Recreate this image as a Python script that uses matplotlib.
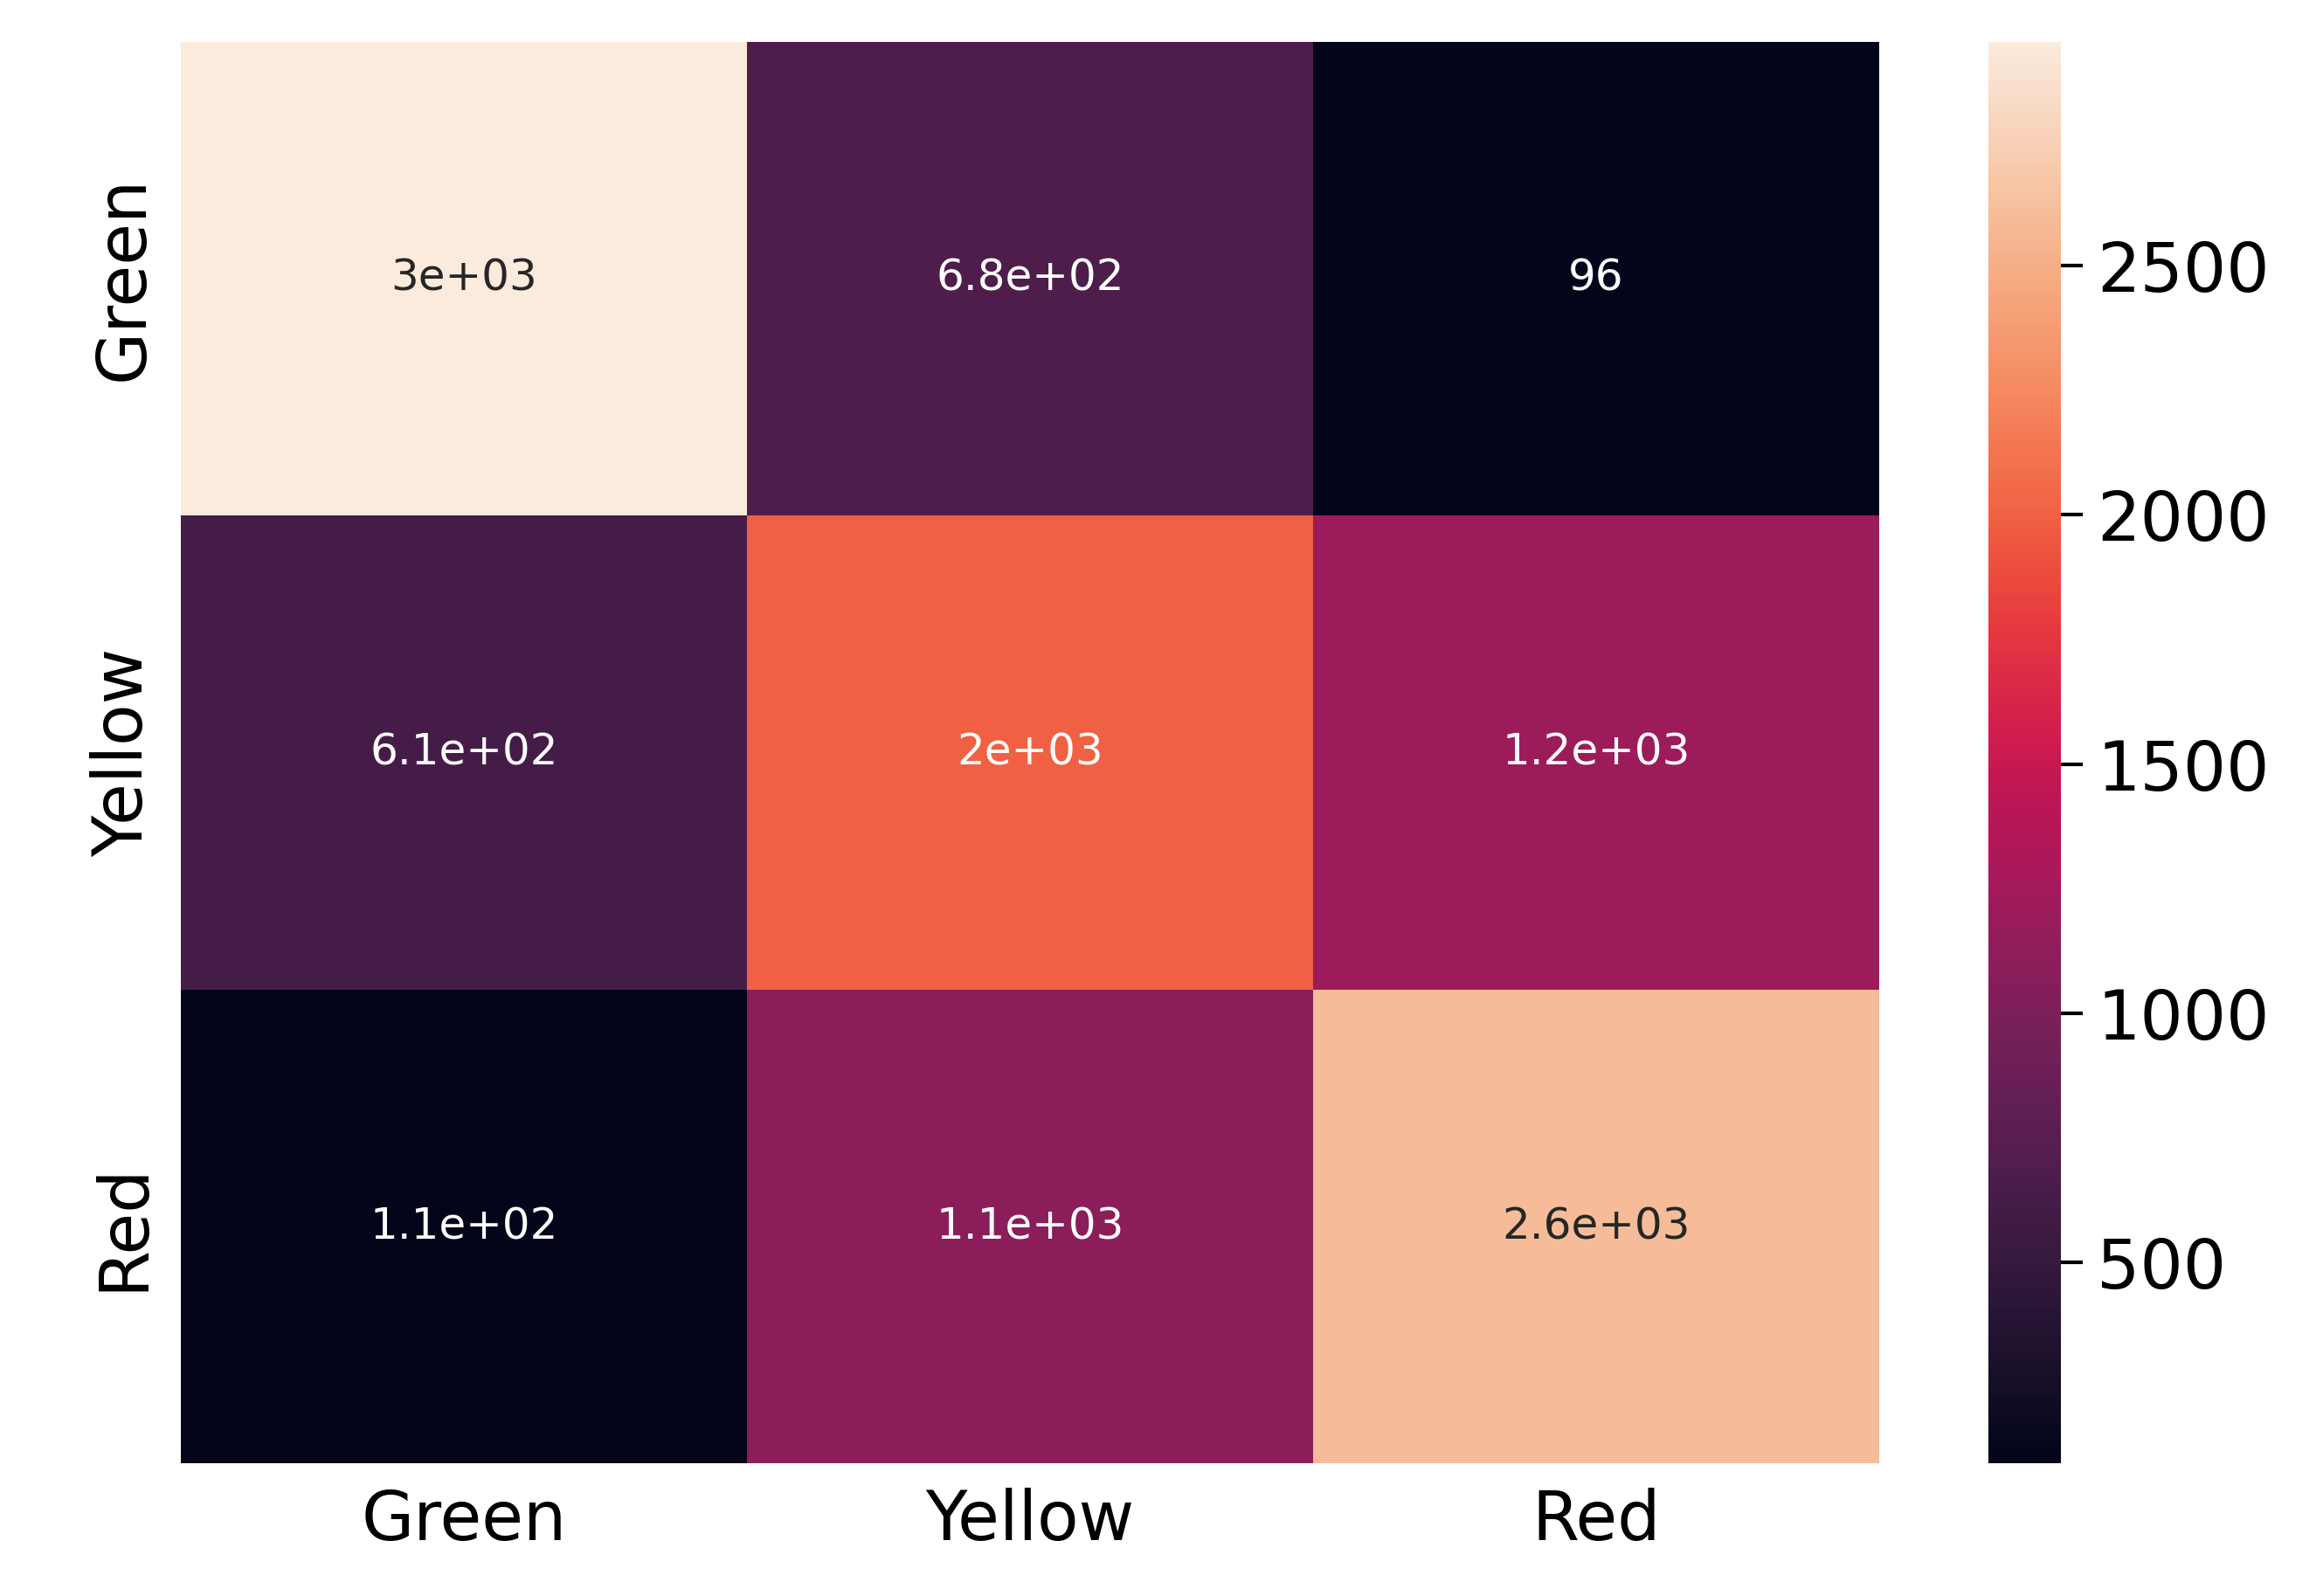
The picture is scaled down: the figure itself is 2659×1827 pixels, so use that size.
import matplotlib
matplotlib.use("Agg")
import matplotlib.pyplot as plt
import numpy as np
import seaborn as sns

labels = ["Green", "Yellow", "Red"]
counts = np.array([
    [2950, 680, 96],
    [610, 2000, 1200],
    [110, 1100, 2600],
])

fig = plt.figure(figsize=(26.59, 18.27), dpi=100)
ax = fig.add_axes([0.078, 0.083, 0.731, 0.891])
cax = fig.add_axes([0.856, 0.083, 0.031, 0.891])

sns.heatmap(counts, annot=True, ax=ax, cbar_ax=cax,
            xticklabels=labels, yticklabels=labels,
            annot_kws={"fontsize": 36})
ax.tick_params(axis="both", labelsize=56, length=0, pad=20)
ax.set_yticklabels(labels, rotation=90, va="center")
cax.tick_params(labelsize=56, length=18, width=3, pad=12)
cax.set_yticks([500, 1000, 1500, 2000, 2500])
for s in cax.spines.values():
    s.set_visible(False)

fig.savefig("out.png", dpi=100)
